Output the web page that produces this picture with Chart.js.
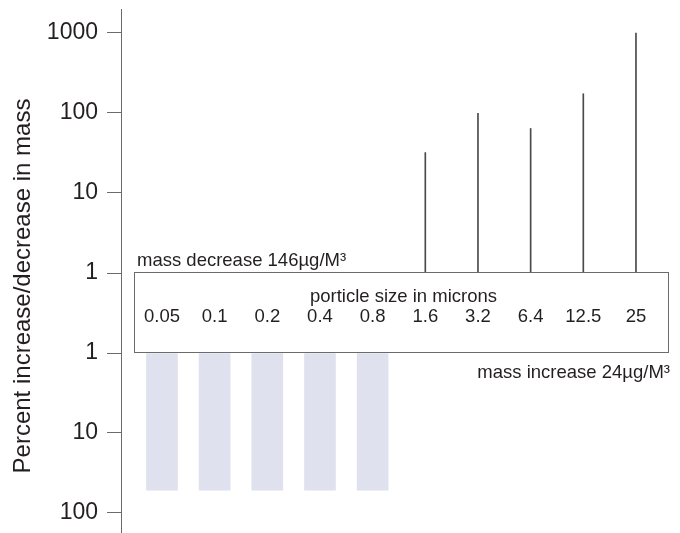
<!DOCTYPE html>
<html>
<head>
<meta charset="utf-8">
<script src="https://cdn.jsdelivr.net/npm/chart.js@4.4.1/dist/chart.umd.min.js"></script>
<style>
html,body{margin:0;padding:0;background:#fff;}
</style>
</head>
<body>
<canvas id="Grafico1" width="680" height="533"></canvas>
<script>
let tamanos=['0.05','0.1','0.2','0.4','0.8','1.6','3.2','6.4','12.5','25'];
let aumento=[null,null,null,null,null,32,99,64,174,1000];
let disminucion=[52,52,52,52,52,null,null,null,null,null];
let ticksArriba=[1,10,100,1000];
let ticksAbajo=[1,10,100];
let tituloY='Percent increase/decrease in mass';
let tituloEje='porticle size in microns';
let notaArriba='mass decrease 146µg/M³';
let notaAbajo='mass increase 24µg/M³';

let fuente='"Liberation Sans", Arial, Helvetica, sans-serif';
let colorTexto='#231f20';
let colorEje='#6b6b6b';

// caja central, textos y titulo del eje
const decoracion={
    id:'decoracion',
    afterDraw(chart){
        const ctx=chart.ctx;
        const x=chart.scales.x;
        const m=chart.scales.yMedio;
        const area=chart.chartArea;
        const izq=area.left+13;
        const der=area.right;
        ctx.save();
        ctx.strokeStyle=colorEje;
        ctx.lineWidth=1;
        ctx.strokeRect(izq+0.5,m.top-0.5,der-izq-1,m.bottom-m.top);

        ctx.fillStyle=colorTexto;
        ctx.font='18.5px '+fuente;
        ctx.textBaseline='alphabetic';
        ctx.textAlign='center';
        tamanos.forEach((t,i)=>{
            ctx.fillText(t,x.getPixelForValue(i),m.top+49);
        });
        ctx.fillText(tituloEje,(izq+der)/2+2,m.top+29);
        ctx.textAlign='left';
        ctx.fillText(notaArriba,izq+3,m.top-7);
        ctx.textAlign='right';
        ctx.fillText(notaAbajo,der+1,m.bottom+25);

        ctx.translate(23,286);
        ctx.rotate(-Math.PI/2);
        ctx.textAlign='center';
        ctx.textBaseline='middle';
        ctx.font='24px '+fuente;
        ctx.fillText(tituloY,0,0);
        ctx.restore();
    }
};

function ejeLog(valores,reverso,peso,alto,maximo){
    return {
        type:'logarithmic',
        position:'left',
        stack:'y',
        stackWeight:alto,
        weight:peso,
        reverse:reverso,
        min:1,
        max:maximo,
        afterBuildTicks:function(eje){
            eje.ticks=valores.map(v=>({value:v}));
        },
        afterFit:function(eje){
            eje.width=121;
            eje.paddingTop=0;
            eje.paddingBottom=0;
        },
        ticks:{
            callback:function(v){ return String(v); },
            font:{family:fuente,size:23},
            color:colorTexto,
            padding:9,
        },
        grid:{
            display:true,
            drawOnChartArea:false,
            drawTicks:true,
            tickLength:14,
            color:colorEje,
        },
        border:{display:true,color:colorEje,width:1},
    };
}

let datos={
    datasets:[
        {
            label:'aumento',
            data:aumento.map((v,i)=>({x:i,y:v})),
            yAxisID:'yArriba',
            backgroundColor:'#4a4a4a',
            barThickness:1,
            grouped:false,
            base:1,
        },
        {
            label:'disminucion',
            data:disminucion.map((v,i)=>({x:i,y:v})),
            yAxisID:'yAbajo',
            backgroundColor:'#dfe1ee',
            barThickness:31,
            grouped:false,
            base:1,
        },
    ]
};

let opciones={
    responsive:false,
    animation:false,
    devicePixelRatio:1,
    layout:{padding:{top:9,right:11,left:0,bottom:0}},
    plugins:{
        legend:{display:false},
        tooltip:{enabled:false},
    },
    scales:{
        x:{
            type:'linear',
            display:false,
            offset:false,
            bounds:'data',
            min:-0.778,
            max:9.627,
        },
        yArriba:ejeLog(ticksArriba,false,3,264,1995),
        yMedio:{
            type:'linear',
            position:'left',
            stack:'y',
            stackWeight:80,
            weight:2,
            min:0,
            max:1,
            afterFit:function(eje){
                eje.width=121;
                eje.paddingTop=0;
                eje.paddingBottom=0;
            },
            ticks:{display:false},
            grid:{display:false},
            border:{display:true,color:colorEje,width:1},
        },
        yAbajo:ejeLog(ticksAbajo,true,1,180,178),
    }
};

let G1=new Chart(document.getElementById('Grafico1').getContext('2d'),{
    type:'bar',
    data:datos,
    options:opciones,
    plugins:[decoracion],
});
</script>
</body>
</html>
